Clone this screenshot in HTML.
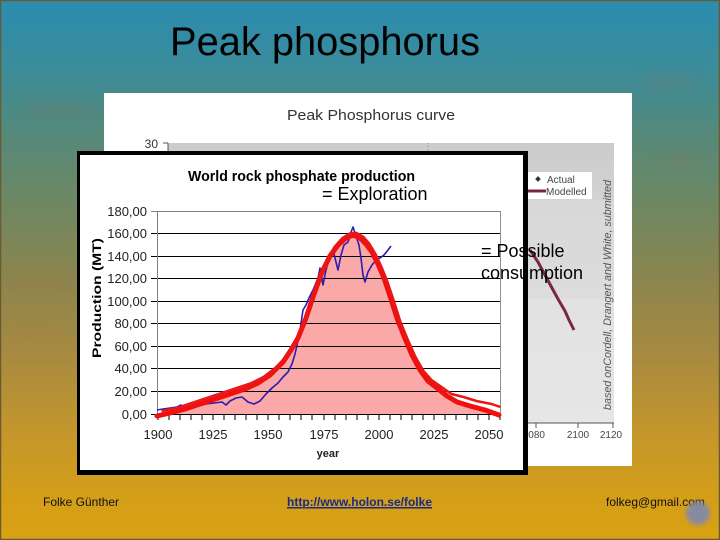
<!DOCTYPE html>
<html>
<head>
<meta charset="utf-8">
<style>
html,body{margin:0;padding:0;width:720px;height:540px;overflow:hidden;}
svg{display:block;}
text{font-family:"Liberation Sans",Arial,sans-serif;}
</style>
</head>
<body>
<svg width="720" height="540" viewBox="0 0 720 540" xmlns="http://www.w3.org/2000/svg">
  <defs>
    <linearGradient id="bg" x1="0" y1="0" x2="0" y2="1">
      <stop offset="0" stop-color="#2a8cb0"/>
      <stop offset="0.12" stop-color="#3a8c9c"/>
      <stop offset="0.25" stop-color="#55897a"/>
      <stop offset="0.38" stop-color="#6f8762"/>
      <stop offset="0.52" stop-color="#8c854e"/>
      <stop offset="0.66" stop-color="#a88a40"/>
      <stop offset="0.80" stop-color="#c4962c"/>
      <stop offset="0.92" stop-color="#d49e18"/>
      <stop offset="1" stop-color="#d8a214"/>
    </linearGradient>
    <linearGradient id="plotbg" x1="0" y1="0" x2="0" y2="1">
      <stop offset="0" stop-color="#cbcbcb"/>
      <stop offset="0.2" stop-color="#d3d3d3"/>
      <stop offset="0.21" stop-color="#d8d8d8"/>
      <stop offset="0.55" stop-color="#dcdcdc"/>
      <stop offset="0.56" stop-color="#e2e2e2"/>
      <stop offset="1" stop-color="#e6e6e6"/>
    </linearGradient>
    <filter id="blur"><feGaussianBlur stdDeviation="2"/></filter>
    <filter id="blur6"><feGaussianBlur stdDeviation="6"/></filter>
  </defs>

  <!-- slide background -->
  <rect x="0" y="0" width="720" height="540" fill="url(#bg)"/>
  <g filter="url(#blur6)" opacity="0.2" fill="#c0603a">
    <ellipse cx="60" cy="110" rx="40" ry="4"/>
    <ellipse cx="670" cy="80" rx="30" ry="4"/>
    <ellipse cx="40" cy="280" rx="30" ry="4"/>
    <ellipse cx="680" cy="160" rx="25" ry="4"/>
    <ellipse cx="30" cy="330" rx="25" ry="3"/>
  </g>
  <rect x="0.5" y="0.5" width="719" height="539" fill="none" stroke="#6a5a30" stroke-width="1.5"/>

  <!-- main title -->
  <text x="170" y="55" font-size="40" fill="#000" textLength="310" lengthAdjust="spacingAndGlyphs">Peak phosphorus</text>

  <!-- background chart -->
  <rect x="104" y="93" width="528" height="373" fill="#ffffff"/>
  <text x="287" y="120" font-size="15" fill="#333" textLength="168" lengthAdjust="spacingAndGlyphs">Peak Phosphorus curve</text>
  <rect x="168" y="143" width="446" height="280" fill="url(#plotbg)"/>
  <line x1="168" y1="143" x2="168" y2="423" stroke="#555" stroke-width="1"/>
  <line x1="163" y1="143" x2="168" y2="143" stroke="#555" stroke-width="1"/>
  <line x1="168" y1="423" x2="614" y2="423" stroke="#555" stroke-width="1"/>
  <line x1="428" y1="143" x2="428" y2="300" stroke="#888" stroke-width="1" stroke-dasharray="1,2"/>
  <text x="158" y="148" font-size="12" fill="#333" text-anchor="end">30</text>
  <line x1="536" y1="423" x2="536" y2="428" stroke="#555"/>
  <line x1="578" y1="423" x2="578" y2="428" stroke="#555"/>
  <line x1="613" y1="423" x2="613" y2="428" stroke="#555"/>
  <text x="545" y="438" font-size="10" fill="#444" text-anchor="end">2080</text>
  <text x="578" y="438" font-size="10" fill="#444" text-anchor="middle">2100</text>
  <text x="611" y="438" font-size="10" fill="#444" text-anchor="middle">2120</text>
  <!-- legend -->
  <rect x="510" y="172" width="82" height="27" fill="#ffffff"/>
  <rect x="536" y="177" width="4" height="4" fill="#333" transform="rotate(45 538 179)"/>
  <text x="547" y="183" font-size="10" fill="#444">Actual</text>
  <line x1="512" y1="191" x2="546" y2="191" stroke="#7a2840" stroke-width="3"/>
  <text x="546" y="195" font-size="10" fill="#444">Modelled</text>
  <!-- modelled line -->
  <polyline points="530,250 538,262 545,275 552,288 558,299 565,311 569,320 574,330" fill="none" stroke="#7a2840" stroke-width="3" stroke-linejoin="round"/>
  <!-- vertical source note -->
  <text transform="translate(611,410) rotate(-90)" font-size="11" font-style="italic" fill="#555" textLength="230" lengthAdjust="spacingAndGlyphs">based onCordell, Drangert and White, submitted</text>

  <!-- inner chart panel -->
  <rect x="77" y="151" width="451" height="324" fill="#000"/>
  <rect x="80" y="155" width="443" height="315" fill="#fff"/>

  <text x="188" y="181" font-size="15" font-weight="bold" fill="#000" textLength="227" lengthAdjust="spacingAndGlyphs">World rock phosphate production</text>
  <text x="322" y="200" font-size="18" fill="#000">= Exploration</text>

  <!-- pink fill -->
  <polygon fill="#faa8a8" points="157,414 170,413 185,409 200,404 215,399 230,394 245,389 258,383 270,375 283,362 291,350 298,338 306,318 314,294 322,272 330,256 338,245 346,238 353,235 360,238 366,244 372,252 378,264 384,278 390,296 397,318 404,336 412,355 420,370 428,381 437,388 447,396 457,402 470,406 485,410 499,414"/>

  <!-- gridlines -->
  <g stroke="#000" stroke-width="1">
    <line x1="151" y1="211.5" x2="500" y2="211.5" stroke="#808080"/>
    <line x1="151" y1="233.5" x2="500" y2="233.5"/>
    <line x1="151" y1="256.5" x2="500" y2="256.5"/>
    <line x1="151" y1="278.5" x2="500" y2="278.5"/>
    <line x1="151" y1="301.5" x2="500" y2="301.5"/>
    <line x1="151" y1="323.5" x2="500" y2="323.5"/>
    <line x1="151" y1="346.5" x2="500" y2="346.5"/>
    <line x1="151" y1="368.5" x2="500" y2="368.5"/>
    <line x1="151" y1="391.5" x2="500" y2="391.5"/>
    <line x1="151" y1="414.5" x2="500" y2="414.5"/>
    <line x1="157.5" y1="211" x2="157.5" y2="414" stroke="#808080"/>
    <line x1="500.5" y1="211" x2="500.5" y2="414" stroke="#909090"/>
  </g>
  <!-- x minor ticks -->
  <g stroke="#000" stroke-width="1">
    <line x1="158" y1="414" x2="158" y2="420"/><line x1="169" y1="414" x2="169" y2="420"/><line x1="180" y1="414" x2="180" y2="420"/><line x1="191" y1="414" x2="191" y2="420"/><line x1="202" y1="414" x2="202" y2="420"/><line x1="213" y1="414" x2="213" y2="420"/><line x1="224" y1="414" x2="224" y2="420"/><line x1="235" y1="414" x2="235" y2="420"/><line x1="246" y1="414" x2="246" y2="420"/><line x1="257" y1="414" x2="257" y2="420"/><line x1="268" y1="414" x2="268" y2="420"/><line x1="279" y1="414" x2="279" y2="420"/><line x1="290" y1="414" x2="290" y2="420"/><line x1="301" y1="414" x2="301" y2="420"/><line x1="312" y1="414" x2="312" y2="420"/><line x1="324" y1="414" x2="324" y2="420"/><line x1="335" y1="414" x2="335" y2="420"/><line x1="346" y1="414" x2="346" y2="420"/><line x1="357" y1="414" x2="357" y2="420"/><line x1="368" y1="414" x2="368" y2="420"/><line x1="379" y1="414" x2="379" y2="420"/><line x1="390" y1="414" x2="390" y2="420"/><line x1="401" y1="414" x2="401" y2="420"/><line x1="412" y1="414" x2="412" y2="420"/><line x1="423" y1="414" x2="423" y2="420"/><line x1="434" y1="414" x2="434" y2="420"/><line x1="445" y1="414" x2="445" y2="420"/><line x1="456" y1="414" x2="456" y2="420"/><line x1="467" y1="414" x2="467" y2="420"/><line x1="478" y1="414" x2="478" y2="420"/><line x1="489" y1="414" x2="489" y2="420"/><line x1="500" y1="414" x2="500" y2="420"/>
  </g>

  <!-- y labels -->
  <g font-size="13" fill="#222" text-anchor="end">
    <text x="147" y="216">180,00</text>
    <text x="147" y="238">160,00</text>
    <text x="147" y="261">140,00</text>
    <text x="147" y="283">120,00</text>
    <text x="147" y="306">100,00</text>
    <text x="147" y="328">80,00</text>
    <text x="147" y="351">60,00</text>
    <text x="147" y="373">40,00</text>
    <text x="147" y="396">20,00</text>
    <text x="147" y="419">0,00</text>
  </g>
  <!-- x labels -->
  <g font-size="13" fill="#222" text-anchor="middle">
    <text x="158" y="439">1900</text>
    <text x="213" y="439">1925</text>
    <text x="268" y="439">1950</text>
    <text x="324" y="439">1975</text>
    <text x="379" y="439">2000</text>
    <text x="434" y="439">2025</text>
    <text x="489" y="439">2050</text>
  </g>
  <text x="328" y="457" font-size="11" font-weight="bold" fill="#222" text-anchor="middle">year</text>
  <text transform="translate(101,358) rotate(-90)" font-size="12" font-weight="bold" fill="#000" textLength="120" lengthAdjust="spacingAndGlyphs">Production (MT)</text>

  <!-- actual (blue) -->
  <polyline fill="none" stroke="#2a1eb0" stroke-width="1.6" stroke-linejoin="round" points="157,410 163,409 170,408 177,407 181,405 184,407 190,408 198,406 206,404 214,403 222,402 226,405 230,401 236,398 242,397 248,402 254,404 260,401 266,394 272,388 278,383 283,377 288,372 292,364 295,354 297,345 300,330 303,310 306,305 309,298 313,290 318,278 320,268 323,285 326,270 330,255 333,250 336,262 338,270 341,255 344,245 348,242 351,232 353,227 356,236 359,245 361,258 363,275 365,282 368,272 372,265 376,260 380,258 384,255 388,250 391,246"/>

  <!-- modelled (red) -->
  <polyline fill="none" stroke="#f01010" stroke-width="5" stroke-linejoin="round" stroke-linecap="round" points="157,416 170,413 185,409 200,404 215,399 230,394 245,389 258,383 270,375 283,362 291,350 298,338 306,318 314,294 322,272 330,256 338,245 346,238 353,235 360,238 366,244 372,252 378,264 384,278 390,296 397,318 404,336 412,355 420,370 428,381 437,388 447,396 457,402 470,406 485,410 499,415"/>
  <polyline fill="none" stroke="#e81818" stroke-width="2.5" stroke-linejoin="round" transform="translate(1.5,-3)" points="160,414 175,411 190,406 205,401 220,396 235,391 250,386 262,380 275,370 286,358 294,345 301,330 309,308 317,284 325,264 333,250 341,241 349,236 355,236 362,240 368,247 374,257 380,270 386,285 392,303 399,325 406,342 414,360 422,374 430,383 440,390 450,397 462,400 475,404 490,407 499,410"/>

  <!-- overlay annotation -->
  <text x="481" y="257" font-size="18" fill="#000">= Possible</text>
  <text x="481" y="279" font-size="18" fill="#000">consumption</text>

  <!-- footer -->
  <text x="43" y="506" font-size="12" fill="#111">Folke Günther</text>
  <text x="287" y="506" font-size="12" font-weight="bold" fill="#1a2a8a" textLength="145" lengthAdjust="spacingAndGlyphs" text-decoration="underline">http://www.holon.se/folke</text>
  <line x1="287" y1="508" x2="432" y2="508" stroke="#1a2a8a" stroke-width="1"/>
  <text x="606" y="506" font-size="12" fill="#111">folkeg@gmail.com</text>
  <circle cx="698" cy="513" r="12" fill="#8088b0" filter="url(#blur)" opacity="0.9"/>
</svg>
</body>
</html>
